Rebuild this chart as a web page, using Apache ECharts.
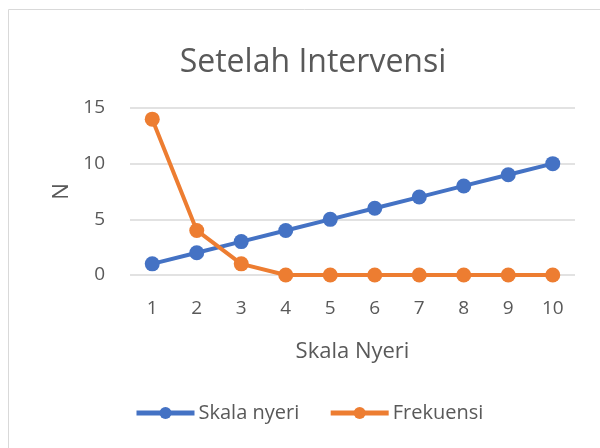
<!DOCTYPE html>
<html>
<head>
<meta charset="utf-8">
<script src="https://cdn.jsdelivr.net/npm/echarts@6/dist/echarts.min.js"></script>
<style>
  html, body { margin: 0; padding: 0; background: #fff; }
  #chart { width: 600px; height: 448px; }
</style>
</head>
<body>
<div id="chart"></div>
<script>
  // data
  var categories = ['1', '2', '3', '4', '5', '6', '7', '8', '9', '10'];
  var skalaNyeri = [1, 2, 3, 4, 5, 6, 7, 8, 9, 10];
  var frekuensi = [14, 4, 1, 0, 0, 0, 0, 0, 0, 0];
  var seriesNames = ['Skala nyeri', 'Frekuensi'];

  var textColor = '#595959';
  var fontFamily = '"Open Sans", "Noto Sans", sans-serif';

  var chart = echarts.init(document.getElementById('chart'));
  chart.setOption({
    animation: false,
    textStyle: { fontFamily: fontFamily },
    graphic: [{
      type: 'rect',
      shape: { x: 8.5, y: 9.5, width: 700, height: 500 },
      style: { fill: 'none', stroke: '#d9d9d9', lineWidth: 1 },
      silent: true
    }],
    title: {
      text: 'Setelah Intervensi',
      left: 308,
      textAlign: 'center',
      top: 42,
      textStyle: { color: textColor, fontSize: 32, fontWeight: 'normal', fontFamily: fontFamily }
    },
    legend: {
      data: seriesNames,
      bottom: 20,
      left: 129,
      itemWidth: 58,
      itemHeight: 15,
      itemGap: 29,
      textStyle: { color: textColor, fontSize: 20, padding: [0, 0, 0, -1] },
      itemStyle: { borderWidth: 0 },
      lineStyle: { width: 5 }
    },
    grid: { left: 130, right: 25, top: 108, bottom: 173 },
    xAxis: {
      type: 'category',
      data: categories,
      boundaryGap: true,
      name: 'Skala Nyeri',
      nameLocation: 'middle',
      nameGap: 66,
      nameTextStyle: { color: textColor, fontSize: 22 },
      axisLine: { show: false },
      axisTick: { show: false },
      axisLabel: { color: textColor, fontSize: 19, margin: 24 }
    },
    yAxis: {
      type: 'value',
      min: 0,
      max: 15,
      interval: 5,
      name: 'N',
      nameLocation: 'middle',
      nameGap: 54,
      nameTextStyle: { color: textColor, fontSize: 22 },
      axisLabel: { color: textColor, fontSize: 19, margin: 25 },
      splitLine: { lineStyle: { color: '#d9d9d9', width: 1.5 } }
    },
    series: [{
      name: seriesNames[0],
      type: 'line',
      data: skalaNyeri,
      symbol: 'circle',
      symbolSize: 15,
      lineStyle: { width: 4, color: '#4472c4' },
      itemStyle: { color: '#4472c4' }
    }, {
      name: seriesNames[1],
      type: 'line',
      data: frekuensi,
      symbol: 'circle',
      symbolSize: 15,
      lineStyle: { width: 4, color: '#ed7d31' },
      itemStyle: { color: '#ed7d31' }
    }]
  });
</script>
</body>
</html>
